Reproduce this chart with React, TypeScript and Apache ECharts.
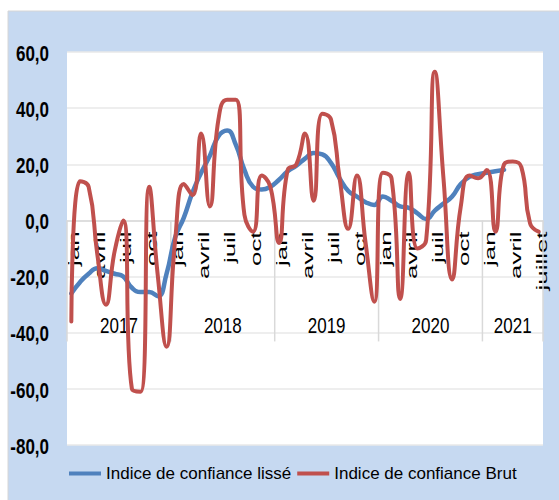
import React, { useEffect, useRef } from "react";
import * as echarts from "echarts";

// ---- data ----
const years = ["2017", "2018", "2019", "2020", "2021"];
const yearMonthCounts = [12, 12, 12, 12, 7];

const monthLabels = [
  "jan", "", "", "avril", "", "", "juil", "", "", "oct", "", "",
  "jan", "", "", "avril", "", "", "juil", "", "", "oct", "", "",
  "jan", "", "", "avril", "", "", "juil", "", "", "oct", "", "",
  "jan", "", "", "avril", "", "", "juil", "", "", "oct", "", "",
  "jan", "", "", "avril", "", "", "juillet",
];

const smoothedIndex: (number | null)[] = [
  -26, -22, -19, -17, -18, -19, -20, -24, -25.5, -25.5, -27, -19,
  -6, 1, 10, 17, 23, 30, 32, 27, 18, 12, 11, 12,
  14.5, 17.5, 19.5, 22, 24, 23.5, 20.5, 15, 10.5, 8.5, 6.5, 5.5,
  8.5, 7, 5, 4.5, 2.5, 0.5, 3.5, 6, 8.5, 13, 15.5, 16.5,
  17, 17.5, 18, null, null, null, null,
];

const rawIndex: number[] = [
  -36, 14, 12, -12, -30, -11, 0, -60, -61, 12, -20, -45,
  -7, 13, 9, 31, 5, 36, 43, 43, 2, -4, 16, 12,
  -8, 18, 20, 31, 7, 38, 36, 15, -3, 16, -8, -29,
  17, 15, -28, 17, -10, -7, 53, 15, -21, 5, 16, 15,
  18, -4, 20, 21, 19, -1, -4,
];

const seriesNames = ["Indice de confiance lissé", "Indice de confiance Brut"];
const yMin = -80;
const yMax = 60;
const yInterval = 20;

// categories built from the year / month-count arrays
const categories: string[] = [];
years.forEach((y, yi) => {
  for (let m = 0; m < yearMonthCounts[yi]; m++) categories.push(`${y}-${m + 1}`);
});

const SANS = "Liberation Sans, Arial, Helvetica, sans-serif";
const fmt = (v: number) => v.toFixed(1).replace(".", ",");

export default function App() {
  const ref = useRef<HTMLDivElement>(null);

  useEffect(() => {
    const chart = echarts.init(ref.current!, null, { renderer: "svg" });
    chart.setOption({
      animation: false,
      backgroundColor: "#ffffff",
      grid: {
        left: 67,
        right: 16,
        top: 52,
        bottom: 55,
        show: true,
        backgroundColor: "#ffffff",
        borderWidth: 0,
      },
      legend: {
        data: seriesNames,
        left: 64,
        top: 460,
        icon: "rect",
        itemWidth: 32,
        itemHeight: 4,
        itemGap: 6,
        textStyle: { fontFamily: SANS, fontSize: 17, color: "#000" },
      },
      xAxis: {
        type: "category",
        data: categories,
        boundaryGap: true,
        axisLine: { onZero: true, lineStyle: { color: "#d9d9d9", width: 1.5 } },
        axisTick: { show: false },
        axisLabel: { show: false },
        splitLine: { show: false },
      },
      yAxis: {
        type: "value",
        min: yMin,
        max: yMax,
        interval: yInterval,
        axisLine: { show: false },
        axisTick: { show: false },
        splitLine: { lineStyle: { color: "#e8e8e8", width: 1.5 } },
        axisLabel: { show: false, formatter: fmt },
      },
      series: [
        {
          name: seriesNames[0],
          type: "line",
          data: smoothedIndex,
          smooth: true,
          symbol: "none",
          connectNulls: false,
          color: "#4f81bd",
          lineStyle: { color: "#4f81bd", width: 4.5, cap: "round" },
        },
        {
          name: seriesNames[1],
          type: "line",
          data: rawIndex,
          smooth: true,
          symbol: "none",
          color: "#c0504d",
          lineStyle: { color: "#c0504d", width: 4, cap: "round" },
        },
      ],
    });

    // positions from the library's own scales
    const xs = categories.map((_, i) => chart.convertToPixel({ xAxisIndex: 0 }, i) as number);
    const y0 = chart.convertToPixel({ yAxisIndex: 0 }, 0) as number;
    const step = xs[1] - xs[0];
    const gridLeft = xs[0] - step / 2;

    const elements: any[] = [
      {
        type: "rect",
        z: -10,
        silent: true,
        shape: { x: 8, y: 11, width: 560, height: 500 },
        style: { fill: "#c6d9f1", stroke: "#d6d6d6", lineWidth: 1 },
      },
    ];

    // y tick labels (tall, bold)
    for (let v = yMin; v <= yMax; v += yInterval) {
      const py = chart.convertToPixel({ yAxisIndex: 0 }, v) as number;
      elements.push({
        type: "text",
        x: gridLeft - 18,
        y: py + 1.5,
        scaleY: 1.25,
        silent: true,
        style: {
          text: fmt(v),
          fontFamily: SANS,
          fontSize: 17,
          fontWeight: "bold",
          fill: "#000",
          align: "right",
          verticalAlign: "middle",
        },
      });
    }

    // month labels (rotated, stretched along reading direction)
    monthLabels.forEach((lab, i) => {
      if (!lab) return;
      elements.push({
        type: "text",
        x: xs[i] + 3,
        y: y0 + 11,
        rotation: Math.PI / 2,
        scaleX: 1.85,
        silent: true,
        style: {
          text: lab,
          fontFamily: SANS,
          fontSize: 14,
          fontWeight: "normal",
          fill: "#000",
          align: "right",
          verticalAlign: "middle",
        },
      });
    });

    // year groups: separators and labels
    let start = 0;
    const bounds: number[] = [gridLeft];
    years.forEach((y, yi) => {
      const end = start + yearMonthCounts[yi];
      const left = xs[start] - step / 2;
      const right = xs[end - 1] + step / 2;
      bounds.push(right);
      elements.push({
        type: "text",
        x: (left + right) / 2,
        y: y0 + 105,
        scaleY: 1.35,
        silent: true,
        style: {
          text: y,
          fontFamily: SANS,
          fontSize: 17,
          fontWeight: "normal",
          fill: "#000",
          align: "center",
          verticalAlign: "middle",
        },
      });
      start = end;
    });
    bounds.forEach((bx) => {
      elements.push({
        type: "line",
        silent: true,
        shape: { x1: bx, y1: y0, x2: bx, y2: y0 + 121 },
        style: { stroke: "#d9d9d9", lineWidth: 1.5 },
      });
    });

    chart.setOption({ graphic: { elements } });

    return () => chart.dispose();
  }, []);

  return (
    <div
      ref={ref}
      style={{ position: "absolute", left: 0, top: 0, width: 559, height: 500 }}
    />
  );
}
